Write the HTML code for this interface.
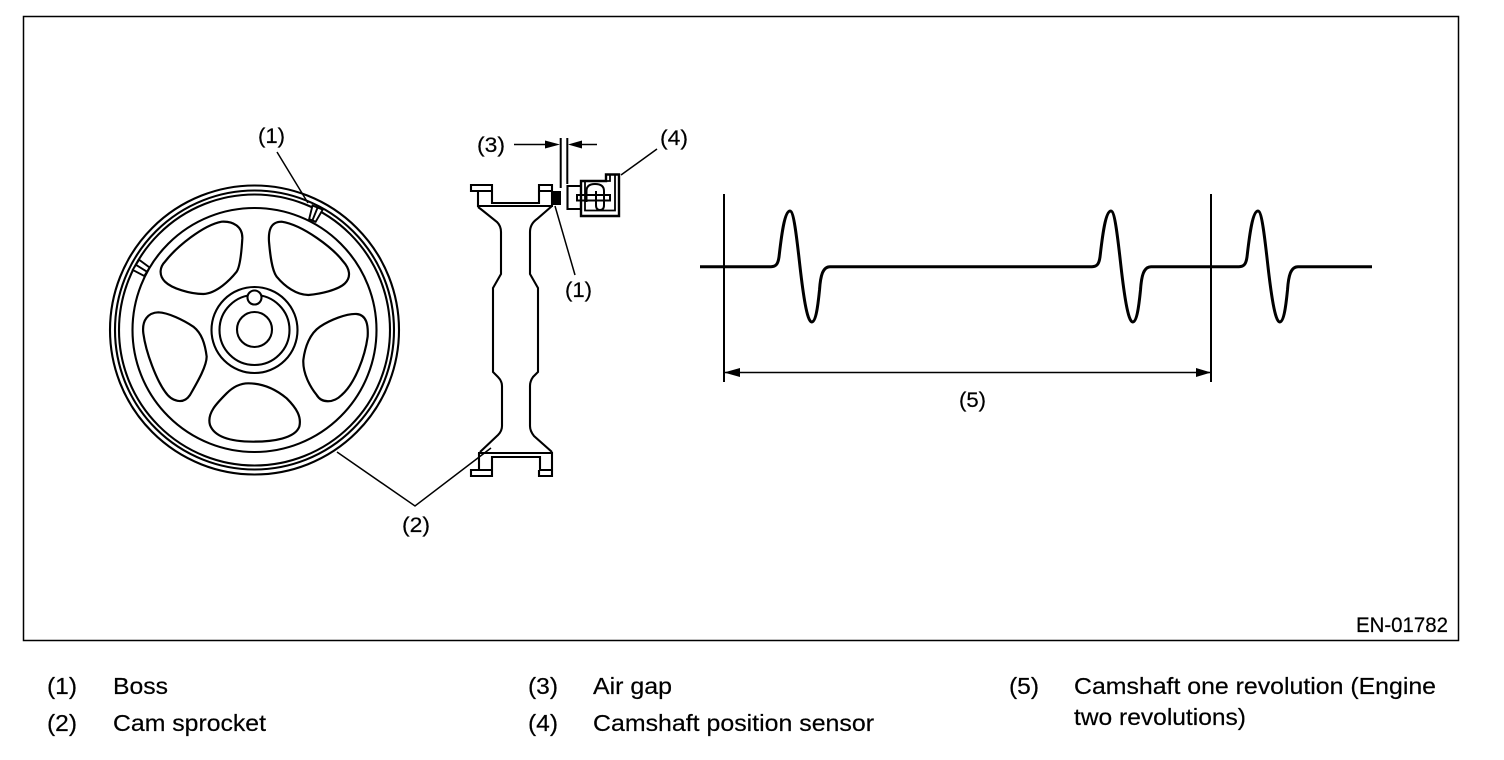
<!DOCTYPE html>
<html><head><meta charset="utf-8"><style>
html,body{margin:0;padding:0;background:#fff;width:1504px;height:760px;overflow:hidden}
svg{display:block}
text{font-family:"Liberation Sans",Arial,sans-serif;fill:#000;stroke:#000;stroke-width:.2}
.l{font-size:21.5px}
.g{font-size:23.5px}
.t{fill:none;stroke:#000;stroke-width:2.1}
.z{fill:none;stroke:#000;stroke-width:6.600}
.q{fill:none;stroke:#000;stroke-width:1.500}
.w{fill:none;stroke:#000;stroke-width:3;stroke-linejoin:round}
</style></head><body>
<svg width="1504" height="760" viewBox="0 0 1504 760" xmlns="http://www.w3.org/2000/svg">
<rect x="23.500" y="16.500" width="1435" height="624" fill="none" stroke="#000" stroke-width="1.500"/>

<!-- wheel -->
<circle class="t" cx="254.500" cy="330" r="144.500"/>
<circle class="t" cx="254.500" cy="330" r="139.500"/>
<circle class="t" cx="254.500" cy="330" r="135.500"/>
<circle class="t" cx="254.500" cy="330" r="122"/>
<circle class="t" cx="254.500" cy="330" r="43"/>
<circle class="t" cx="254.500" cy="330" r="35"/>
<circle class="t" cx="254.500" cy="329.500" r="17.500"/>
<circle cx="254.500" cy="297.500" r="7" fill="#fff" stroke="#000" stroke-width="2.100"/>
<g transform="translate(100 120) scale(.33333)">
<path class="z" d="M365 305C400 303 428 320 427 355C425 390 420 440 410 455C390 480 350 520 310 522C270 522 215 505 195 485C175 465 180 440 195 425C230 380 310 315 365 305Z"/>
<path class="z" d="M545 305C510 305 505 335 507 365C510 400 515 450 530 470C555 500 590 525 625 525C660 522 715 510 735 490C755 470 748 445 730 425C700 385 610 315 545 305Z"/>
<path class="z" d="M175 577C145 578 125 600 130 640C138 700 170 780 195 815C215 845 250 855 270 825C290 790 320 740 320 710C315 670 305 640 280 620C250 600 205 578 175 577Z"/>
<path class="z" d="M770 582C800 585 805 615 803 650C795 710 765 790 725 825C700 850 665 850 650 825C630 800 608 760 610 720C615 680 630 640 660 620C690 600 740 580 770 582Z"/>
<path class="z" d="M445 790C490 790 530 810 560 835C590 865 605 890 598 920C585 955 520 965 460 965C400 965 345 955 330 915C320 880 350 850 380 820C400 800 420 790 445 790Z"/>
</g>
<!-- bosses on wheel -->
<g transform="translate(315 214) rotate(22)">
<path d="M-5.500 -7H5.500L3.500 7H-3.500ZM0 -7V7" fill="#fff" stroke="#000" stroke-width="1.900"/>
</g>
<g transform="translate(141 268) rotate(-58)">
<path d="M-6 -6H6L5 7H-5ZM0 -6V7" fill="#fff" stroke="#000" stroke-width="1.900"/>
</g>
<path d="M277 152L308 203" class="q"/>
<path d="M337 452L415 506L491 448" class="q"/>

<!-- sprocket side -->
<path class="t" d="M471 185H492V203H539V185H552V206H478V191H471ZM492 191H478M539 191H552"/>
<path class="t" d="M478 207L482 210L497 222Q501 226 501 232V274L493 288V372L498 377Q502 381 502 386V426Q502 431 498 435L480 452"/>
<path class="t" d="M552 206L537 219Q530 224 530 232V274L538 288V372L533 377Q530 381 530 386V426Q530 431 534 436L552 452"/>
<path class="t" d="M478 453H552V470H540V457H492V476H471V470H479V453M471 470H492M540 470H552M539 470V476H552V470"/>
<rect x="552" y="191" width="9" height="14" fill="#000"/>
<path d="M555 206L575 275" class="q"/>

<!-- air gap -->
<path d="M560.700 138V188M567.300 138V184" fill="none" stroke="#000" stroke-width="2"/>
<path d="M514 144.500H548M597 144.500H578" class="q"/>
<path d="M560 144.500L545 140.500V148.500ZM568 144.500L582 140.500V148.500Z" fill="#000"/>

<!-- sensor -->
<path class="t" d="M581 186H567.500V209H581"/>
<path d="M581 181H606V174.500H619V216H581Z" fill="none" stroke="#000" stroke-width="2.400"/>
<path d="M585 181V210.500H615V174.500M610 174.500V181H606" fill="none" stroke="#000" stroke-width="1.800"/>
<path d="M586.500 202V191Q586.500 184 595 184Q604 184 604 191V205Q604 210 600 210Q596 210 596 205V191" fill="none" stroke="#000" stroke-width="2"/>
<rect x="577" y="195" width="33" height="5.500" fill="none" stroke="#000" stroke-width="2"/>
<path d="M657 149L621 175" class="q"/>

<!-- waveform -->
<path class="w" d="M700 266.700H771C776 266.700 778 264 779 257C781 240 784 211 790 211C794 211 797 240 800 266.700C803 293 807 322 811.700 322C816 322 818 305 819.500 290C820.500 275 823 266.700 830 266.700H1092C1097 266.700 1099 264 1100 257C1102 240 1105 211 1111 211C1115 211 1118 240 1121 266.700C1124 293 1128 322 1132.700 322C1137 322 1139 305 1140.500 290C1141.500 275 1144 266.700 1151 266.700H1239C1244 266.700 1246 264 1247 257C1249 240 1252 211 1258 211C1262 211 1265 240 1268 266.700C1271 293 1275 322 1279.700 322C1284 322 1286 305 1287.500 290C1288.500 275 1291 266.700 1298 266.700H1372"/>
<path d="M724 194V382M1211 194V382" fill="none" stroke="#000" stroke-width="2"/>
<path d="M724 372.500H1211" class="q"/>
<path d="M724 372.500L740 368V377ZM1211 372.500L1196 368V377Z" fill="#000"/>

<!-- labels -->
<text class="l" x="258" y="143" textLength="27" lengthAdjust="spacingAndGlyphs">(1)</text>
<text class="l" x="477" y="152" textLength="28" lengthAdjust="spacingAndGlyphs">(3)</text>
<text class="l" x="660" y="145" textLength="28" lengthAdjust="spacingAndGlyphs">(4)</text>
<text class="l" x="565" y="297" textLength="27" lengthAdjust="spacingAndGlyphs">(1)</text>
<text class="l" x="402" y="532" textLength="28" lengthAdjust="spacingAndGlyphs">(2)</text>
<text class="l" x="959" y="407" textLength="27" lengthAdjust="spacingAndGlyphs">(5)</text>
<text class="l" x="1356" y="632" textLength="92" lengthAdjust="spacingAndGlyphs">EN-01782</text>

<text class="g" x="47" y="694" textLength="30" lengthAdjust="spacingAndGlyphs">(1)</text>
<text class="g" x="113" y="694" textLength="55" lengthAdjust="spacingAndGlyphs">Boss</text>
<text class="g" x="47" y="731" textLength="30" lengthAdjust="spacingAndGlyphs">(2)</text>
<text class="g" x="113" y="731" textLength="153" lengthAdjust="spacingAndGlyphs">Cam sprocket</text>
<text class="g" x="528" y="694" textLength="30" lengthAdjust="spacingAndGlyphs">(3)</text>
<text class="g" x="593" y="694" textLength="79" lengthAdjust="spacingAndGlyphs">Air gap</text>
<text class="g" x="528" y="731" textLength="30" lengthAdjust="spacingAndGlyphs">(4)</text>
<text class="g" x="593" y="731" textLength="281" lengthAdjust="spacingAndGlyphs">Camshaft position sensor</text>
<text class="g" x="1009" y="694" textLength="30" lengthAdjust="spacingAndGlyphs">(5)</text>
<text class="g" x="1074" y="694" textLength="362" lengthAdjust="spacingAndGlyphs">Camshaft one revolution (Engine</text>
<text class="g" x="1074" y="725" textLength="172" lengthAdjust="spacingAndGlyphs">two revolutions)</text>
</svg>
</body></html>
